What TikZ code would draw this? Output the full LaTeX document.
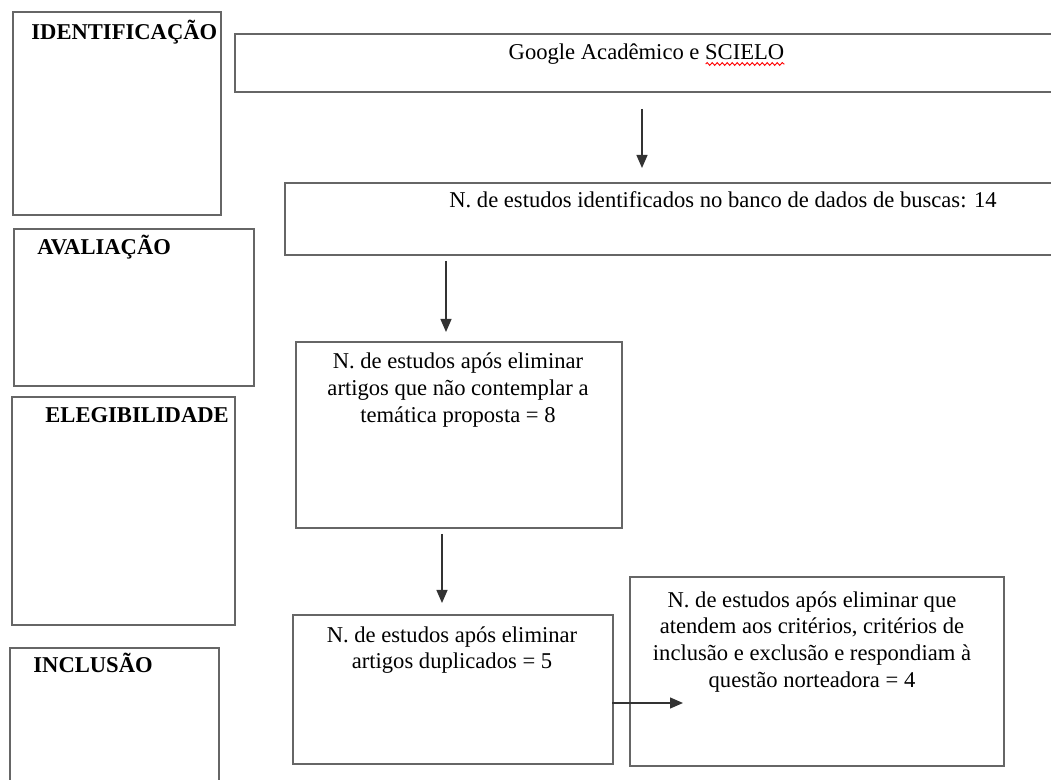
\documentclass[tikz,border=0pt]{standalone}
\usepackage{fontspec}
\setmainfont{Liberation Serif}
\usetikzlibrary{arrows.meta, positioning, decorations.pathmorphing}
\tikzset{
  box/.style  = {draw=black!60, line width=0.8pt, anchor=north west, inner sep=0pt}, % caixas do fluxograma
  lbl/.style  = {font=\bfseries\fontsize{11.3}{13.6}\selectfont, anchor=base west, inner sep=0pt},
  txt/.style  = {font=\fontsize{11.3}{13.4}\selectfont, align=center, inner sep=0pt},
  seta/.style = {-{Triangle[length=6.5pt, width=5.5pt]}, black!80, line width=0.6pt}
}
\begin{document}
\begin{tikzpicture}[x=0.5pt, y=-0.5pt]
  \useasboundingbox (0,0) rectangle (1051,780);
  \clip (0,0) rectangle (1051,780);
  % etapas (coluna da esquerda)
  \node[box, minimum width=104pt, minimum height=101.5pt] (ident) at (12,11) {};
  \node[box, minimum width=120pt, minimum height=78.5pt] (aval) at (13,228) {};
  \node[box, minimum width=111.5pt, minimum height=114pt] (eleg) at (11,396) {};
  \node[box, minimum width=104.5pt, minimum height=70pt] (incl) at (9,647) {};
  \node[lbl] (identlbl) at (31,39.5) {IDENTIFICAÇÃO};
  \node[lbl] (avallbl) at (37,254.5) {AVALIAÇÃO};
  \node[lbl] (eleglbl) at (45,422.5) {ELEGIBILIDADE};
  \node[lbl] (incllbl) at (33,672.5) {INCLUSÃO};
  % fluxo
  \node[box, minimum width=415pt, minimum height=29pt] (google) at (234,33) {};
  \node[txt, anchor=base] (gtxt) at (646.5,60) {Google Acadêmico e SCIELO};
  \draw[red, line width=0.45pt, decorate, decoration={snake, amplitude=0.7pt, segment length=2.5pt}]
    ([xshift=-39.5pt, yshift=-2pt]gtxt.base east) -- ([yshift=-2pt]gtxt.base east);
  \node[box, minimum width=390pt, minimum height=36pt] (busca) at (284,182) {};
  \node[txt, anchor=base] (btxt) at (723,208) {N. de estudos identificados no banco de dados de buscas: 14};
  \node[box, minimum width=163pt, minimum height=93pt] (tem) at (295,341) {};
  \node[txt, anchor=north] (ttxt) at (458,352.5) {N. de estudos após eliminar\\ artigos que não contemplar a\\ temática proposta = 8};
  \node[box, minimum width=160pt, minimum height=74.5pt] (dup) at (292,614) {};
  \node[txt, anchor=north] (dtxt) at (452,626) {N. de estudos após eliminar\\ artigos duplicados = 5};
  \node[box, minimum width=187pt, minimum height=94.5pt] (fin) at (629,576) {};
  \node[txt, anchor=north] (ftxt) at (812,591) {N. de estudos após eliminar que\\ atendem aos critérios, critérios de\\ inclusão e exclusão e respondiam à\\ questão norteadora = 4};
  % setas
  \coordinate (a1) at (642,109);
  \coordinate (a2) at (446,261);
  \coordinate (a3) at (442,534);
  \coordinate (a4) at (612,703);
  \draw[seta, shorten >=7pt] (a1) -- (a1 |- busca.north);
  \draw[seta, shorten >=4.5pt] (a2) -- (a2 |- tem.north);
  \draw[seta, shorten >=5.5pt] (a3) -- (a3 |- dup.north);
  \draw[seta, shorten >=-27pt] (a4) -- (a4 -| fin.west);
\end{tikzpicture}
\end{document}
